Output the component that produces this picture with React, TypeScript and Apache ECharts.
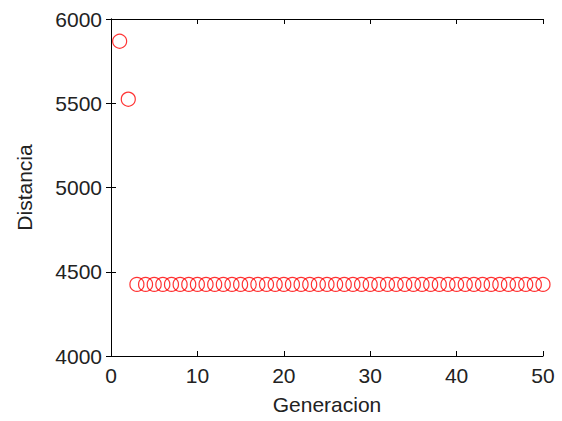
import React, { useEffect, useRef } from "react";
import * as echarts from "echarts";

const generations: number[] = [
  1, 2, 3, 4, 5, 6, 7, 8, 9, 10,
  11, 12, 13, 14, 15, 16, 17, 18, 19, 20,
  21, 22, 23, 24, 25, 26, 27, 28, 29, 30,
  31, 32, 33, 34, 35, 36, 37, 38, 39, 40,
  41, 42, 43, 44, 45, 46, 47, 48, 49, 50,
];

const distances: number[] = [
  5868, 5524, 4425, 4425, 4425, 4425, 4425, 4425, 4425, 4425,
  4425, 4425, 4425, 4425, 4425, 4425, 4425, 4425, 4425, 4425,
  4425, 4425, 4425, 4425, 4425, 4425, 4425, 4425, 4425, 4425,
  4425, 4425, 4425, 4425, 4425, 4425, 4425, 4425, 4425, 4425,
  4425, 4425, 4425, 4425, 4425, 4425, 4425, 4425, 4425, 4425,
];

const xLabel = "Generacion";
const yLabel = "Distancia";

const FONT = "Liberation Sans";

export default function App() {
  const ref = useRef<HTMLDivElement>(null);

  useEffect(() => {
    document.body.style.margin = "0";
    if (!ref.current) return;
    const chart = echarts.init(ref.current, undefined, { renderer: "svg" });
    const axisLine = { show: true, lineStyle: { color: "#000", width: 1 } };
    const tick = { show: true, inside: true, length: 5, lineStyle: { color: "#000", width: 1 } };
    const labelStyle = {
      color: "#222",
      fontSize: 21,
      fontFamily: FONT,
      formatter: (v: number) => String(v),
    };
    chart.setOption({
      animation: false,
      backgroundColor: "#fff",
      grid: { left: 111, top: 19, right: 19, bottom: 65, containLabel: false },
      xAxis: [
        {
          type: "value",
          position: "bottom",
          min: 0,
          max: 50,
          interval: 10,
          name: xLabel,
          nameLocation: "middle",
          nameGap: 38,
          nameTextStyle: { color: "#222", fontSize: 21, fontFamily: FONT },
          axisLine,
          axisTick: tick,
          axisLabel: { ...labelStyle, margin: 9 },
          splitLine: { show: false },
        },
        {
          type: "value",
          position: "top",
          min: 0,
          max: 50,
          interval: 10,
          axisLine,
          axisTick: tick,
          axisLabel: { show: false },
          splitLine: { show: false },
        },
      ],
      yAxis: [
        {
          type: "value",
          position: "left",
          min: 4000,
          max: 6000,
          interval: 500,
          name: yLabel,
          nameLocation: "middle",
          nameGap: 76,
          nameRotate: 90,
          nameTextStyle: { color: "#222", fontSize: 21, fontFamily: FONT },
          axisLine,
          axisTick: tick,
          axisLabel: { ...labelStyle, margin: 9 },
          splitLine: { show: false },
        },
        {
          type: "value",
          position: "right",
          min: 4000,
          max: 6000,
          interval: 500,
          axisLine,
          axisTick: tick,
          axisLabel: { show: false },
          splitLine: { show: false },
        },
      ],
      series: [
        {
          type: "scatter",
          data: generations.map((g, i) => [g, distances[i]]),
          symbol: "circle",
          symbolSize: 14,
          itemStyle: { color: "none", borderColor: "#ff0000", borderWidth: 1.2 },
          clip: false,
        },
      ],
    });
    return () => chart.dispose();
  }, []);

  return <div ref={ref} style={{ width: 562, height: 421 }} />;
}
